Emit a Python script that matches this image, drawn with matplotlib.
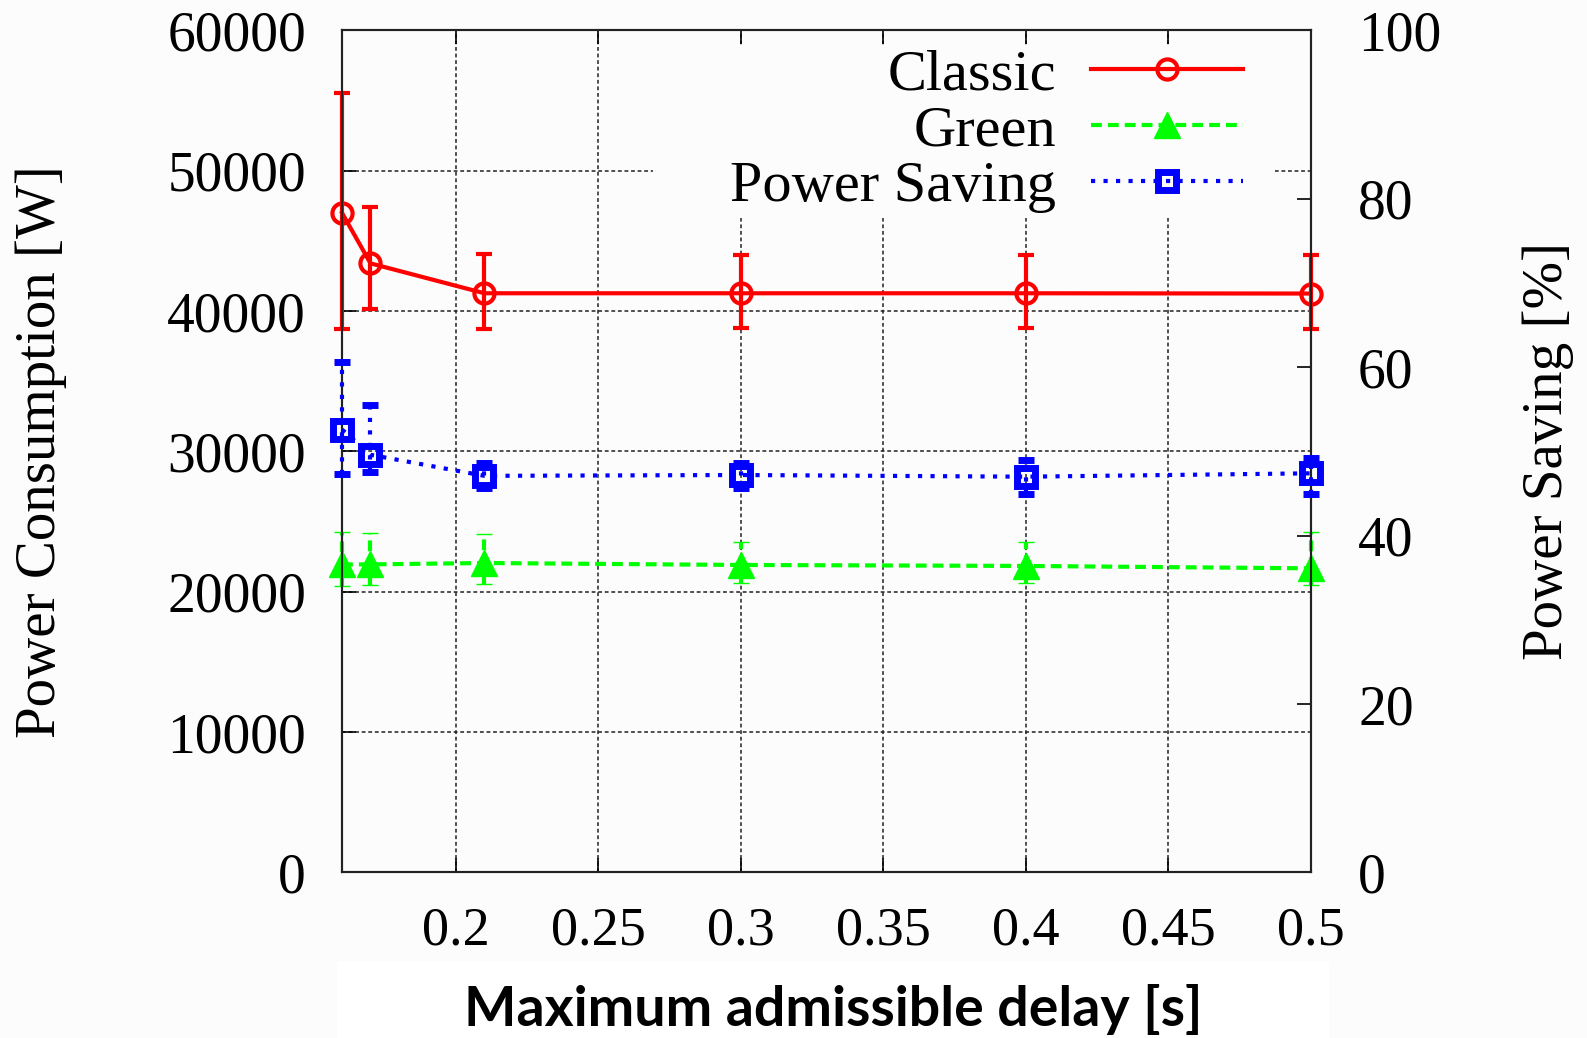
import matplotlib
matplotlib.use("Agg")
import matplotlib.pyplot as plt
from matplotlib.patches import Rectangle
import numpy as np

# ---------------- data ----------------
delay = [0.16, 0.17, 0.21, 0.30, 0.40, 0.50]

classic_mean = [47000, 43400, 41270, 41270, 41270, 41250]
classic_low  = [38700, 40180, 38750, 38780, 38780, 38700]
classic_high = [55570, 47450, 44050, 44000, 44000, 44000]

green_mean = [21950, 21950, 22050, 21910, 21840, 21670]
green_low  = [20410, 20480, 20550, 20620, 20600, 20480]
green_high = [24280, 24210, 24120, 23570, 23570, 24280]

saving_mean = [52.6, 49.6, 47.1, 47.2, 47.0, 47.4]
saving_low  = [47.3, 47.6, 45.6, 45.7, 45.0, 45.0]
saving_high = [60.65, 55.5, 48.6, 48.6, 49.0, 49.2]

left_ticks = [0, 10000, 20000, 30000, 40000, 50000, 60000]
right_ticks = [0, 20, 40, 60, 80, 100]
x_ticks = [0.2, 0.25, 0.3, 0.35, 0.4, 0.45, 0.5]
x_ticklabels = ["0.2", "0.25", "0.3", "0.35", "0.4", "0.45", "0.5"]
labels = ["Classic", "Green", "Power Saving"]

# ---------------- style ----------------
SERIF = ["Liberation Serif", "DejaVu Serif"]
BG = "#fcfcfc"
plt.rcParams["font.family"] = SERIF

W, H = 1587, 1038
fig = plt.figure(figsize=(15.87, 10.38), dpi=100, facecolor=BG)
ax = fig.add_axes([0.2155, 0.1595, 0.826 - 0.2155, 0.9707 - 0.1595])
ax.set_facecolor(BG)
ax2 = ax.twinx()

def yerr(mean, low, high):
    m = np.asarray(mean, float)
    return [m - np.asarray(low, float), np.asarray(high, float) - m]

def unclip(container):
    for a in container.get_children():
        a.set_clip_on(False)

lw = 3.0
red = ax.errorbar(delay, classic_mean, yerr=yerr(classic_mean, classic_low, classic_high),
                  color="#ff0000", lw=lw, marker="o", ms=14.5, mfc="none", mew=3,
                  capsize=6, capthick=3, elinewidth=3, zorder=4)
grn = ax.errorbar(delay, green_mean, yerr=yerr(green_mean, green_low, green_high),
                  color="#00ff00", lw=lw, marker="^", ms=19, mew=1,
                  capsize=6, capthick=3, elinewidth=3, zorder=3)
grn[0].set_linestyle((0, (2.6, 1.45)))
grn[2][0].set_linestyle((0, (2.6, 1.45)))
blu = ax2.errorbar(delay, saving_mean, yerr=yerr(saving_mean, saving_low, saving_high),
                   color="#0000ff", lw=lw, marker="s", ms=13, mfc="none", mew=5,
                   capsize=6, capthick=3, elinewidth=3, zorder=3)
blu[0].set_linestyle((0, (1.0, 2.0)))
blu[2][0].set_linestyle((0, (1.0, 2.0)))
for c in (red, grn, blu):
    unclip(c)

ax.set_xlim(0.16, 0.5)
ax.set_ylim(0, 60000)
ax2.set_ylim(0, 100)

ax.set_xticks(x_ticks)
ax.set_xticklabels(x_ticklabels)
ax.set_yticks(left_ticks)
ax.set_yticklabels([str(v) for v in left_ticks])
ax2.set_yticks(right_ticks)
ax2.set_yticklabels([str(v) for v in right_ticks])

ax.tick_params(axis="x", direction="in", top=True, length=10, width=1.2,
               labelsize=39, pad=24)
ax.tick_params(axis="y", direction="in", right=False, length=10, width=1.2,
               labelsize=40, pad=26)
ax2.tick_params(axis="y", direction="in", length=10, width=1.2,
                labelsize=40, pad=34)

ax.grid(True, color="#222222", lw=1.1, linestyle=(0, (2.5, 1.8)))
for a in (ax, ax2):
    for s in a.spines.values():
        s.set_linewidth(1.5)
        s.set_color("#222222")

# opaque key area (hides grid behind the key, like the original)
ax.add_patch(Rectangle((0.321, 0.777), 0.963 - 0.321, 0.983 - 0.777,
                       transform=ax.transAxes, facecolor=BG, edgecolor="none",
                       zorder=1.6))

ax.set_ylabel("Power Consumption [W]", fontsize=41, va="center")
ax.yaxis.set_label_coords(-0.311, 0.5)
ax2.set_ylabel("Power Saving [%]", fontsize=41, va="center", rotation=90)
ax2.yaxis.set_label_coords(1.245, 0.5)

# white band behind the x label
fig.patches.append(Rectangle((337 / W, 0), (1329 - 337) / W, 77 / H,
                             transform=fig.transFigure, facecolor="white",
                             edgecolor="none", zorder=-1))
ax.set_xlabel("Maximum admissible delay [s]", fontsize=40, fontweight="bold",
              family=["Lato", "DejaVu Sans"], va="center")
ax.xaxis.set_label_coords(0.507, -0.163)

leg = ax2.legend([red[0], grn[0], blu[0]], labels, loc="upper right",
                 bbox_to_anchor=(1243 / W, 1 - 49 / H),
                 bbox_transform=fig.transFigure, markerfirst=False,
                 frameon=False, borderpad=0, borderaxespad=0,
                 handlelength=2.6, handletextpad=0.6, labelspacing=0.05,
                 numpoints=1, prop={"family": SERIF, "size": 42})
leg.set_zorder(10)

fig.savefig("out.png", dpi=100, facecolor=BG)
